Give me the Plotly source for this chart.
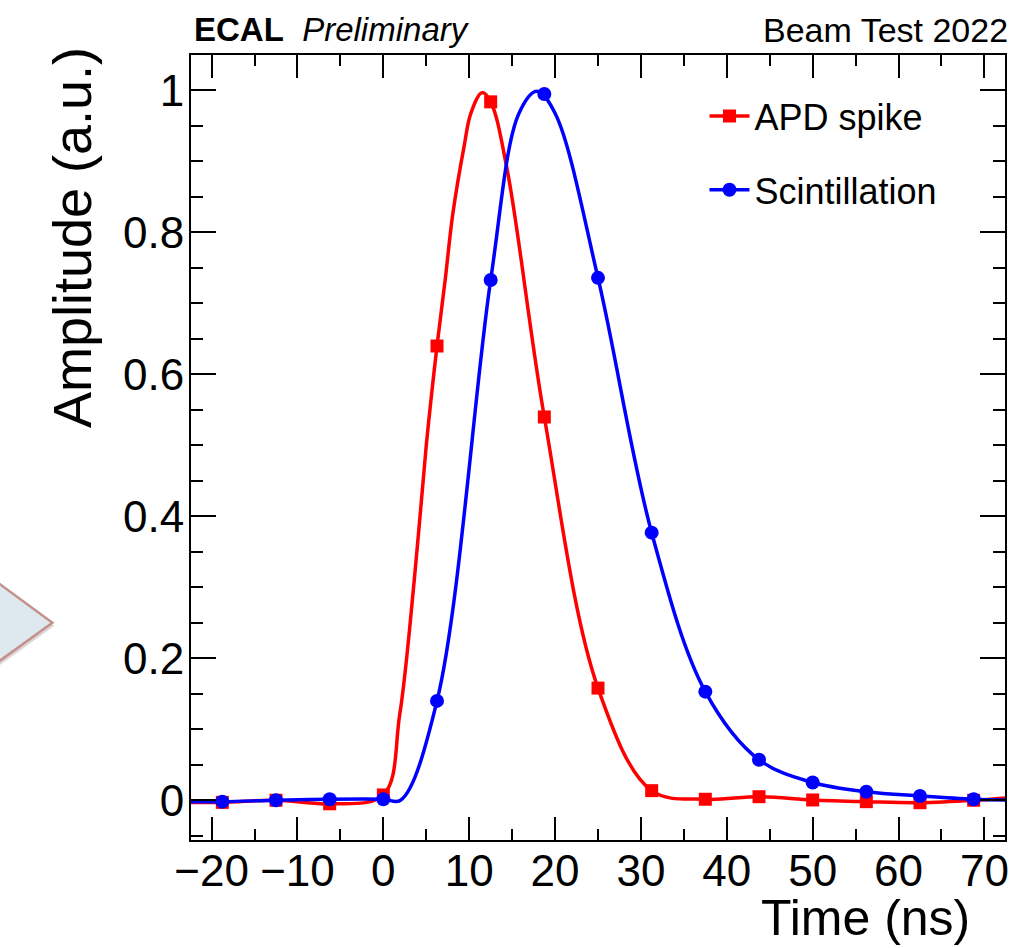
import plotly.graph_objects as go

# ---- data ----
# sampled points (markers)
time_ns = [-25.0, -18.75, -12.5, -6.25, 0.0, 6.25, 12.5, 18.75, 25.0, 31.25,
           37.5, 43.75, 50.0, 56.25, 62.5, 68.75, 75.0]
apd_spike = [-0.003, -0.003, 0.0, -0.005, 0.0075, 0.640, 0.984, 0.540, 0.158, 0.0135,
             0.0014, 0.005, 0.0004, -0.002, -0.0034, 0.0, 0.006]
scintillation = [-0.002, -0.002, 0.0, 0.0014, 0.0014, 0.140, 0.733, 0.995, 0.736, 0.377,
                 0.153, 0.057, 0.025, 0.012, 0.006, 0.0014, 0.0]

# smooth curves: the markers plus a few extra points
apd_curve_t = [-25.0, -18.75, -12.5, -6.25, 0.0, 1.9, 3.6, 5.0, 6.25, 7.2, 8.1, 9.4, 10.2,
               11.5, 12.5, 14.4, 18.75, 25.0, 31.25, 37.5, 43.75, 50.0, 56.25, 62.5,
               68.75, 75.0]
apd_curve_v = [-0.003, -0.003, 0.0, -0.005, 0.0075, 0.12, 0.31, 0.50, 0.640, 0.733, 0.827,
               0.921, 0.968, 0.997, 0.984, 0.89, 0.540, 0.158, 0.0135, 0.0014, 0.005,
               0.0004, -0.002, -0.0034, 0.0, 0.006]
scint_curve_t = [-25.0, -18.75, -12.5, -6.25, 0.0, 2.0, 6.25, 12.5, 15.8, 17.9, 20.0,
                 25.0, 31.25, 37.5, 43.75, 50.0, 56.25, 62.5, 68.75, 75.0]
scint_curve_v = [-0.002, -0.002, 0.0, 0.0014, 0.0014, 0.0, 0.140, 0.733, 0.968, 0.999,
                 0.968, 0.736, 0.377, 0.153, 0.057, 0.025, 0.012, 0.006, 0.0014, 0.0]

series_names = ["APD spike", "Scintillation"]
x_tick_vals = [-20, -10, 0, 10, 20, 30, 40, 50, 60, 70]
y_tick_vals = [0, 0.2, 0.4, 0.6, 0.8, 1.0]
y_tick_text = ["0", "0.2", "0.4", "0.6", "0.8", "1"]

W, H = 1013, 948
L, R, T, B = 191, 1009, 55, 840


def px(xp):
    return (xp - L) / (R - L)


def py(yp):
    return (B - yp) / (B - T)


FONT = "Liberation Sans, Arial, Helvetica, sans-serif"
RED, BLUE = "#ff0000", "#0000ff"

fig = go.Figure()
# legend entries
fig.add_trace(go.Scatter(
    x=[None], y=[None], name=series_names[0], mode="lines+markers", legendgroup="a",
    line=dict(color=RED, width=3.5), marker=dict(symbol="square", size=13, color=RED),
))
fig.add_trace(go.Scatter(
    x=[None], y=[None], name=series_names[1], mode="lines+markers", legendgroup="b",
    line=dict(color=BLUE, width=3.5), marker=dict(symbol="circle", size=14, color=BLUE),
))
# APD spike
fig.add_trace(go.Scatter(
    x=apd_curve_t, y=apd_curve_v, mode="lines", showlegend=False, hoverinfo="skip",
    line=dict(color=RED, width=3.5, shape="spline", smoothing=1.0),
))
fig.add_trace(go.Scatter(
    x=time_ns, y=apd_spike, mode="markers", showlegend=False, name=series_names[0],
    marker=dict(symbol="square", size=13, color=RED),
))
# Scintillation
fig.add_trace(go.Scatter(
    x=scint_curve_t, y=scint_curve_v, mode="lines", showlegend=False, hoverinfo="skip",
    line=dict(color=BLUE, width=3.5, shape="spline", smoothing=1.0),
))
fig.add_trace(go.Scatter(
    x=time_ns, y=scintillation, mode="markers", showlegend=False, name=series_names[1],
    marker=dict(symbol="circle", size=14, color=BLUE),
))

axis_common = dict(
    showgrid=False, zeroline=False,
    showline=True, linecolor="black", linewidth=2, mirror="allticks",
    ticks="inside", tickcolor="black", tickwidth=1.5,
    tickfont=dict(family=FONT, size=44, color="black"),
)
fig.update_xaxes(
    range=[-22.4, 72.4], tickmode="array", tickvals=x_tick_vals,
    ticklen=23, ticklabelstandoff=-9,
    minor=dict(dtick=5, tick0=0, ticklen=11, ticks="inside", tickcolor="black", tickwidth=1.5),
    **axis_common,
)
fig.update_yaxes(
    range=[-0.056, 1.05], tickmode="array", tickvals=y_tick_vals, ticktext=y_tick_text,
    ticklen=25, ticklabelstandoff=-4,
    minor=dict(dtick=0.05, tick0=0, ticklen=12, ticks="inside", tickcolor="black", tickwidth=1.5),
    **axis_common,
)

# decorative arrow fragment at the left edge
arrow = "M {} {} L {} {} L {} {} Z"
pts = [(-20, 570.4), (51.7, 622.7), (-20, 674.4)]
shadow = arrow.format(*sum([[px(a + 2), py(b + 3)] for a, b in pts], []))
main = arrow.format(*sum([[px(a), py(b)] for a, b in pts], []))
fig.add_shape(type="path", path=shadow, xref="paper", yref="paper",
              fillcolor="rgba(120,90,90,0.25)", line=dict(width=0), layer="below")
fig.add_shape(type="path", path=main, xref="paper", yref="paper",
              fillcolor="#dde9ee", line=dict(color="#c4918a", width=2.5), layer="below")

fig.add_annotation(
    text="<b>ECAL</b>\u00a0\u00a0<i>Preliminary</i>", xref="paper", yref="paper",
    x=px(192), y=py(50), xanchor="left", yanchor="bottom", showarrow=False,
    font=dict(family=FONT, size=33, color="black"),
)
fig.add_annotation(
    text="Beam Test 2022", xref="paper", yref="paper",
    x=px(1014), y=py(51), xanchor="right", yanchor="bottom", showarrow=False,
    font=dict(family=FONT, size=34, color="black"),
)
fig.add_annotation(
    text="Time (ns)", xref="paper", yref="paper",
    x=px(976), y=py(948), xanchor="right", yanchor="bottom", showarrow=False,
    font=dict(family=FONT, size=50, color="black"),
)
fig.add_annotation(
    text="Amplitude (a.u.)", xref="paper", yref="paper", textangle=-90,
    x=px(71), y=py(45), xanchor="center", yanchor="top", showarrow=False,
    font=dict(family=FONT, size=54, color="black"),
)

fig.update_layout(
    width=W, height=H,
    margin=dict(l=L, r=W - R, t=T, b=H - B, pad=0),
    paper_bgcolor="white", plot_bgcolor="white",
    showlegend=True,
    legend=dict(
        x=px(707), y=py(86), xanchor="left", yanchor="top",
        bgcolor="rgba(0,0,0,0)", borderwidth=0,
        font=dict(family=FONT, size=36, color="black"),
        tracegroupgap=24, itemwidth=40,
    ),
)

fig.write_html("out.html", config={"displayModeBar": False},
               post_script="document.body.style.margin='0';")
